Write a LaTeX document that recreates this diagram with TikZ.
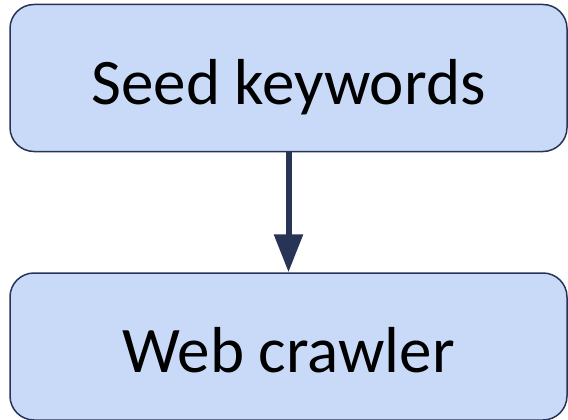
\documentclass[tikz,border=0pt]{standalone}
\usepackage{fontspec}
\setmainfont{Carlito}
\usetikzlibrary{arrows.meta,positioning}
\definecolor{boxfill}{HTML}{C9DAF8}
\definecolor{boxline}{HTML}{283456}

\begin{document}
\begin{tikzpicture}[x=1pt,y=-1pt,->,>={Triangle[width=28pt,length=38pt]},node distance=120pt,
                line width=6pt,stage/.style={rectangle,rounded corners=24pt,draw=boxline,line width=1.5pt,
                fill=boxfill,minimum width=557pt,minimum height=147pt,inner sep=0pt,
                text height=60pt,text depth=8pt,font=\fontsize{65}{70}\selectfont}]

  \useasboundingbox (0,0) rectangle (568,420);

  \node[stage] (seed) at (288.5,78) {Seed keywords};
  \node[stage] (crawler) [below=of seed] {Web crawler};

  \draw[boxline] (seed) -- (crawler);

\end{tikzpicture}
\end{document}
